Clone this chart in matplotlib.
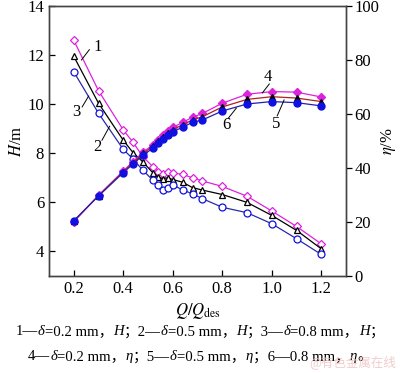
import matplotlib.pyplot as plt

plt.rcParams['font.family'] = ['Liberation Serif', 'Noto Sans CJK SC']
plt.rcParams['mathtext.fontset'] = 'stix'

# Q/Qdes
q = [0.2, 0.3, 0.4, 0.44, 0.48, 0.52, 0.54, 0.56, 0.58, 0.6,
     0.64, 0.68, 0.72, 0.8, 0.9, 1.0, 1.1, 1.2]

# 扬程 H (m)
h1 = [12.6, 10.55, 8.95, 8.44, 7.85, 7.45, 7.25, 7.14, 7.22, 7.2,
      7.14, 7.0, 6.87, 6.65, 6.25, 5.65, 5.02, 4.31]
h2 = [11.95, 10.04, 8.53, 8.02, 7.64, 7.2, 7.03, 6.97, 7.0, 6.93,
      6.82, 6.6, 6.5, 6.32, 6.0, 5.47, 4.86, 4.11]
h3 = [11.32, 9.63, 8.16, 7.76, 7.3, 6.9, 6.7, 6.5, 6.58, 6.72,
      6.5, 6.35, 6.15, 5.8, 5.58, 5.13, 4.52, 3.88]

# 效率 eta (%)
eta4 = [20.0, 29.9, 38.9, 42.4, 45.9, 48.6, 50.5, 52.2, 53.7, 55.0,
        56.9, 58.8, 60.2, 64.0, 67.3, 68.3, 68.1, 66.3]
eta5 = [20.3, 29.8, 38.6, 42.0, 45.4, 48.0, 49.9, 51.6, 53.0, 54.2,
        56.0, 57.8, 59.0, 62.6, 65.4, 66.4, 65.9, 64.6]
eta6 = [20.5, 29.6, 38.3, 41.5, 44.8, 47.3, 49.2, 50.8, 52.2, 53.4,
        55.1, 56.9, 57.8, 61.1, 63.7, 64.6, 64.2, 63.0]

# 图注 (文字, 是否斜体)
cap1 = [('1—', 0), ('δ', 1), ('=0.2 mm，', 0), ('H', 1), ('；2—', 0), ('δ', 1),
        ('=0.5 mm，', 0), ('H', 1), ('；3—', 0), ('δ', 1), ('=0.8 mm，', 0),
        ('H', 1), ('；', 0)]
cap2 = [('4—', 0), ('δ', 1), ('=0.2 mm，', 0), ('η', 1), ('；5—', 0), ('δ', 1),
        ('=0.5 mm，', 0), ('η', 1), ('；6—0.8 mm，', 0), ('η', 1), ('。', 0)]

mag = '#dd22dd'
blu = '#1010e0'

fig = plt.figure(figsize=(4, 3.73), dpi=100)
ax = fig.add_axes([0.1225, 0.26, 0.7425, 0.724])
ax2 = ax.twinx()

ax.plot(q, h1, '-D', color=mag, mfc='white', mec=mag, ms=4.5, lw=0.9, mew=0.9)
ax.plot(q, h2, '-^', color='black', mfc='white', mec='black', ms=5, lw=0.9, mew=0.9)
ax.plot(q, h3, '-o', color='#2a2aa8', mfc='white', mec=blu, ms=5, lw=0.9, mew=0.9)

ax2.plot(q, eta4, '-D', color=mag, mfc=mag, mec=mag, ms=4.5, lw=0.9)
ax2.plot(q, eta5, '-^', color='#b02020', mfc='black', mec='black', ms=5, lw=0.9)
ax2.plot(q, eta6, '-o', color='#2020b0', mfc=blu, mec=blu, ms=5, lw=0.9)

ax.set_xlim(0.1, 1.3)
ax.set_ylim(3, 14)
ax2.set_ylim(0, 100)
ax.set_xticks([0.2, 0.4, 0.6, 0.8, 1.0, 1.2])
ax.set_yticks([4, 6, 8, 10, 12, 14])
ax2.set_yticks([0, 20, 40, 60, 80, 100])

ax.tick_params(direction='in', labelsize=12, length=4, width=0.9)
ax2.tick_params(direction='out', labelsize=12, length=4, width=0.9, pad=2)
for a in (ax, ax2):
    for s in a.spines.values():
        s.set_linewidth(1.0)
        s.set_color('#444444')

ax.set_ylabel('$H$/m', fontsize=12, labelpad=2)
ax2.set_ylabel(r'$\eta$/%', fontsize=12, rotation=90, labelpad=0)
ax.set_xlabel(r'$Q/Q_{\rm des}$', fontsize=12, labelpad=3)

# 曲线编号及引线
ax.text(0.279, 12.33, '1', fontsize=12, ha='left', va='center')
ax.plot([0.231, 0.263], [11.8, 12.22], color='black', lw=0.7)
ax.text(0.211, 9.69, '3', fontsize=12, ha='center', va='center')
ax.plot([0.234, 0.26], [9.89, 10.33], color='black', lw=0.7)
ax.text(0.294, 8.26, '2', fontsize=12, ha='center', va='center')
ax.plot([0.314, 0.345], [8.53, 9.1], color='black', lw=0.7)

ax2.text(0.983, 73.7, '4', fontsize=12, ha='center', va='center')
ax2.plot([0.99, 0.962], [71.1, 67.8], color='black', lw=0.7)
ax2.text(1.018, 56.3, '5', fontsize=12, ha='center', va='center')
ax2.plot([1.022, 1.05], [59.3, 65.2], color='black', lw=0.7)
ax2.text(0.817, 55.9, '6', fontsize=12, ha='center', va='center')
ax2.plot([0.825, 0.857], [58.5, 62.2], color='black', lw=0.7)


def caption(pieces, y, size):
    # 逐段排字, 再整体居中
    r = fig.canvas.get_renderer()
    texts = []
    x = 0
    for s, it in pieces:
        t = fig.text(x, y, s, fontsize=size, va='center', ha='left',
                     style='italic' if it else 'normal')
        w = t.get_window_extent(r).width / fig.bbox.width
        texts.append((t, x))
        x += w
    off = 0.5 - x / 2
    for t, x0 in texts:
        t.set_x(x0 + off)


caption(cap1, 0.11, 10.6)
caption(cap2, 0.043, 10.6)
fig.text(0.99, 0.03, '@有色金属在线', ha='right', va='center', fontsize=9,
         color='#eec0c0', alpha=0.8, family=['Noto Sans CJK SC'])

fig.savefig('out.png', dpi=100)
